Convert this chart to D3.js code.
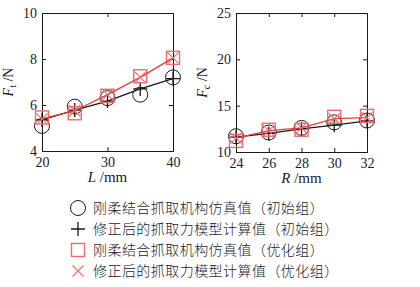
<!DOCTYPE html>
<html>
<head>
<meta charset="utf-8">
<script src="https://cdn.jsdelivr.net/npm/d3@7"></script>
<style>
body { margin: 0; background: #fff; }
svg text { font-family: "Liberation Serif", "DejaVu Serif", serif; fill: #1a1a2a; }
</style>
</head>
<body>
<div id="chart"></div>
<script>
// left panel: L (mm) vs Ft (N)
var L = [20, 25, 30, 35, 40];
var ftSimInit = [5.09, 5.93, 6.3, 6.45, 7.2];
var ftModInit = [5.35, 5.78, 6.17, 6.7, 7.15];
var ftSimOpt = [5.46, 5.64, 6.4, 7.25, 8.05];
var ftModOpt = [5.4, 5.75, 6.45, 7.2, 8.05];

// right panel: R (mm) vs Fc (N)
var R = [24, 26, 28, 30, 32];
var fcSimInit = [11.7, 12.1, 12.6, 13.2, 13.4];
var fcModInit = [11.6, 12.0, 12.5, 12.9, 13.35];
var fcSimOpt = [11.2, 12.4, 12.4, 13.8, 13.9];
var fcModOpt = [11.5, 12.3, 12.6, 13.6, 13.7];

var legendLabels = [
    "刚柔结合抓取机构仿真值（初始组）",
    "修正后的抓取力模型计算值（初始组）",
    "刚柔结合抓取机构仿真值（优化组）",
    "修正后的抓取力模型计算值（优化组）"
];

var black = "#1a1a1a", red = "#e83c3c";

var svg = d3.select("#chart").append("svg")
    .attr("width", 420).attr("height", 287);

function panel(x0, x1, y0, y1, xs, ys, xticks, yticks, sets, ysub, xlab) {
    var x = d3.scaleLinear().domain(xs).range([x0, x1]);
    var y = d3.scaleLinear().domain(ys).range([y1, y0]);
    var g = svg.append("g");

    // ticks inward on all four sides
    g.append("g").attr("transform", "translate(0," + y1 + ")")
	.call(d3.axisBottom(x).tickValues(xticks).tickSize(-4).tickPadding(6).tickFormat(d3.format("d")));
    g.append("g").attr("transform", "translate(0," + y0 + ")")
	.call(d3.axisTop(x).tickValues(xticks).tickSize(-4).tickFormat(""));
    g.append("g").attr("transform", "translate(" + x0 + ",0)")
	.call(d3.axisLeft(y).tickValues(yticks).tickSize(-4).tickPadding(5).tickFormat(d3.format("d")));
    g.append("g").attr("transform", "translate(" + x1 + ",0)")
	.call(d3.axisRight(y).tickValues(yticks).tickSize(-4).tickFormat(""));
    g.selectAll(".domain").attr("stroke", black).attr("stroke-width", 1);
    g.selectAll(".tick line").attr("stroke", black);
    g.selectAll(".tick text").attr("font-size", 14).style("font-family", "Liberation Serif, serif").attr("fill", "#1a1a2a");

    var line = d3.line().x(function(d) { return x(d[0]); }).y(function(d) { return y(d[1]); });

    sets.forEach(function(s) {
	var pts = s.xs.map(function(v, i) { return [v, s.vals[i]]; });
	if (s.line) {
	    g.append("path").datum(pts).attr("d", line)
		.attr("fill", "none").attr("stroke", s.color).attr("stroke-width", 1.3);
	}
	pts.forEach(function(p) {
	    drawMarker(g, s.marker, x(p[0]), y(p[1]), s.color);
	});
    });

    // y label
    var yl = g.append("text")
	.attr("transform", "translate(" + (x0 - 29) + "," + ((y0 + y1) / 2) + ") rotate(-90)")
	.attr("text-anchor", "middle").attr("font-size", 14);
    yl.append("tspan").attr("font-style", "italic").text("F");
    yl.append("tspan").attr("font-size", 10).attr("dy", 3).text(ysub);
    yl.append("tspan").attr("dy", -3).text(" /N");

    var xl = g.append("text")
	.attr("x", (x0 + x1) / 2).attr("y", y1 + 31)
	.attr("text-anchor", "middle").attr("font-size", 15);
    xl.append("tspan").attr("font-style", "italic").text(xlab);
    xl.append("tspan").text(" /mm");
}

function drawMarker(g, type, cx, cy, color) {
    if (type == "circle") {
	g.append("circle").attr("cx", cx).attr("cy", cy).attr("r", 7.5)
	    .attr("fill", "none").attr("stroke", color).attr("stroke-width", 1);
    } else if (type == "plus") {
	g.append("path").attr("d", "M" + (cx - 7) + "," + cy + "h14M" + cx + "," + (cy - 7) + "v14")
	    .attr("stroke", color).attr("stroke-width", 1.3);
    } else if (type == "square") {
	g.append("rect").attr("x", cx - 6.5).attr("y", cy - 6.5).attr("width", 13).attr("height", 13)
	    .attr("fill", "none").attr("stroke", "#f06a6a").attr("stroke-width", 1.4);
    } else if (type == "x") {
	g.append("path").attr("d", "M" + (cx - 5.5) + "," + (cy - 5.5) + "l11,11M" + (cx + 5.5) + "," + (cy - 5.5) + "l-11,11")
	    .attr("stroke", "#f06a6a").attr("stroke-width", 1.1);
    }
}

panel(42, 173, 13, 151, [20, 40], [4, 10], [20, 30, 40], [4, 6, 8, 10], [
    {xs: L, vals: ftSimInit, marker: "circle", color: black},
    {xs: L, vals: ftModInit, marker: "plus", color: black, line: true},
    {xs: L, vals: ftSimOpt, marker: "square", color: red},
    {xs: L, vals: ftModOpt, marker: "x", color: red, line: true}
], "t", "L");

panel(236, 367, 13, 152, [24, 32], [10, 25], [24, 26, 28, 30, 32], [10, 15, 20, 25], [
    {xs: R, vals: fcSimInit, marker: "circle", color: black},
    {xs: R, vals: fcModInit, marker: "plus", color: black, line: true},
    {xs: R, vals: fcSimOpt, marker: "square", color: red},
    {xs: R, vals: fcModOpt, marker: "x", color: red, line: true}
], "c", "R");

// legend
var legMarkers = [["circle", black], ["plus", black], ["square", red], ["x", red]];
var leg = svg.append("g");
legendLabels.forEach(function(t, i) {
    var yy = 208 + i * 21;
    drawMarker(leg, legMarkers[i][0], 78, yy, legMarkers[i][1]);
    leg.append("text")
	.attr("x", 93).attr("y", yy + 5)
	.attr("font-size", 14).attr("letter-spacing", 0.45)
	.style("font-family", "Noto Sans CJK SC, sans-serif")
	.style("font-weight", 300)
	.attr("fill", "#2a2a3a")
	.text(t);
});
</script>
</body>
</html>
